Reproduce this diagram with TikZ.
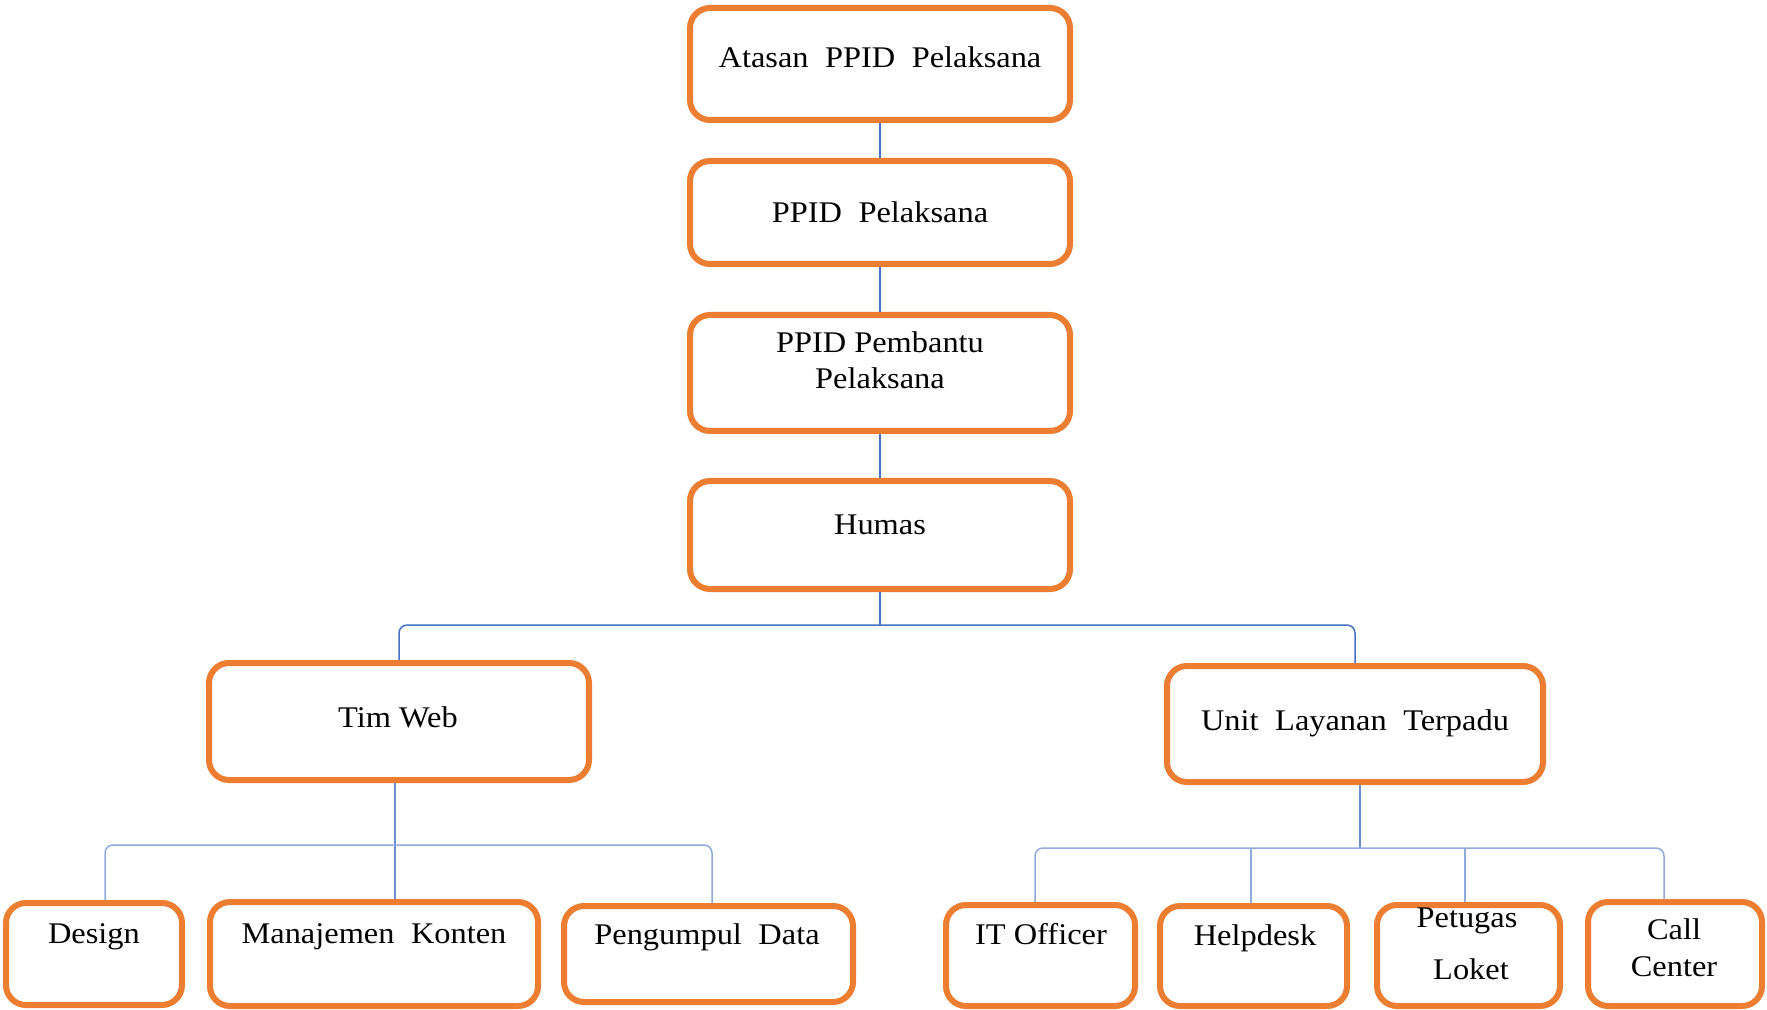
\documentclass[tikz,border=0pt]{standalone}
\usepackage{fontspec}
\setmainfont{Liberation Serif}[FakeStretch=1.08]
\usetikzlibrary{calc}
\definecolor{orng}{HTML}{ED7D31}
\definecolor{blu}{HTML}{4472C4}
\definecolor{lblu}{HTML}{8FAADC}
\newcommand{\wsp}{\hspace{0.55em}}
\begin{document}
\begin{tikzpicture}[x=0.5pt,y=-0.5pt,
  box/.style={draw=orng, line width=3pt, rounded corners=10pt, fill=white, inner sep=0pt},
  lbl/.style={inner sep=0pt, font=\fontsize{15}{17.5}\selectfont, anchor=base},
  ctop/.style={draw=blu, line width=1pt},
  cmid/.style={draw=blu, line width=0.75pt, rounded corners=4pt},
  clow/.style={draw=lblu, line width=0.75pt, rounded corners=4pt},
  cvert/.style={draw=blu!80, line width=0.6pt}]
\useasboundingbox (0,0) rectangle (1767,1010);
\fill[white] (0,0) rectangle (1767,1010);

% boxes
\node[box, minimum width=190pt, minimum height=56pt]   (A)   at (880,64)     {};
\node[box, minimum width=190pt, minimum height=51.5pt] (B)   at (880,212.5)  {};
\node[box, minimum width=190pt, minimum height=58pt]   (C)   at (880,373)    {};
\node[box, minimum width=190pt, minimum height=54pt]   (D)   at (880,535)    {};
\node[box, minimum width=190pt, minimum height=58.5pt] (TW)  at (399,721.5)  {};
\node[box, minimum width=188pt, minimum height=58pt]   (ULT) at (1355,724)   {};
\node[box, minimum width=88pt,  minimum height=51pt]   (DS)  at (94,954)     {};
\node[box, minimum width=164pt, minimum height=52pt]   (MK)  at (374,954)    {};
\node[box, minimum width=144.5pt, minimum height=48pt] (PD)  at (708.5,954)  {};
\node[box, minimum width=94.5pt, minimum height=50.5pt] (IT) at (1040.5,955.5) {};
\node[box, minimum width=93.5pt, minimum height=50pt]  (HD)  at (1253.5,956) {};
\node[box, minimum width=91.5pt, minimum height=50.5pt] (PL) at (1468.5,955.5) {};
\node[box, minimum width=87pt,  minimum height=52pt]   (CC)  at (1675,954)   {};

% texts (baselines)
\node[lbl] (tA)   at (880,68)   {Atasan\wsp PPID\wsp Pelaksana};
\node[lbl] (tB)   at (880,223)  {PPID\wsp Pelaksana};
\node[lbl] (tC1)  at (880,353)  {PPID Pembantu};
\node[lbl] (tC2)  at (880,389)  {Pelaksana};
\node[lbl] (tD)   at (880,534)  {Humas};
\node[lbl] (tTW)  at (398,727)  {Tim Web};
\node[lbl] (tULT) at (1355,730) {Unit\wsp Layanan\wsp Terpadu};
\node[lbl] (tDS)  at (94,943)   {Design};
\node[lbl] (tMK)  at (374,943)  {Manajemen\wsp Konten};
\node[lbl] (tPD)  at (707,944)  {Pengumpul\wsp Data};
\node[lbl] (tIT)  at (1041,944) {IT Officer};
\node[lbl] (tHD)  at (1255,945) {Helpdesk};
\node[lbl] (tPL1) at (1467,927) {Petugas};
\node[lbl] (tPL2) at (1471,979) {Loket};
\node[lbl] (tCC1) at (1674,939) {Call};
\node[lbl] (tCC2) at (1674,976) {Center};

% connectors
\draw[ctop] (A) -- (B);
\draw[ctop] (B) -- (C);
\draw[ctop] (C) -- (D);
\coordinate (h1) at (877,625);
\draw[cmid] (D.south) -- (D.south |- h1);
\draw[cmid] (TW.north) -- (TW.north |- h1) -- (ULT.north |- h1) -- (ULT.north);

\coordinate (h2) at (395,845);
\draw[cvert] (TW.south -| h2) -- (h2 |- MK.north);
\draw[clow] ([xshift=5.5pt]DS.north) -- ([xshift=5.5pt]DS.north |- h2) -- ([xshift=1.75pt]PD.north |- h2) -- ([xshift=1.75pt]PD.north);

\coordinate (h3) at (1360,848);
\draw[cvert] (ULT.south -| h3) -- (h3);
\draw[clow] ([xshift=-2.75pt]IT.north) -- ([xshift=-2.75pt]IT.north |- h3) -- ([xshift=-5.5pt]CC.north |- h3) -- ([xshift=-5.5pt]CC.north);
\draw[clow] ([xshift=-1.25pt]HD.north |- h3) -- ([xshift=-1.25pt]HD.north);
\draw[clow] ([xshift=-1.75pt]PL.north |- h3) -- ([xshift=-1.75pt]PL.north);
\end{tikzpicture}
\end{document}
